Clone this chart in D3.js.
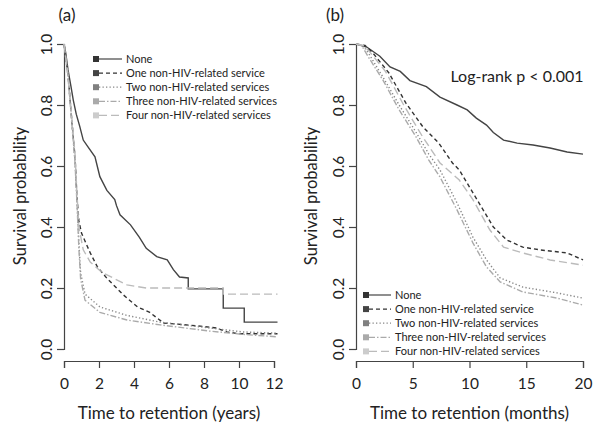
<!DOCTYPE html>
<html><head><meta charset="utf-8">
<script src="https://cdn.jsdelivr.net/npm/d3@7"></script>
<style>
body{margin:0;background:#fff;}
text{font-family:Lato,"Open Sans",sans-serif;fill:#222;}
</style></head>
<body><svg id="c" width="602" height="432"></svg>
<script>
const seriesNames = ["None","One non-HIV-related service","Two non-HIV-related services","Three non-HIV-related services","Four non-HIV-related services"];

// Panel (a): time (years) and survival
const a_none_t = [0,0.1,0.23,0.4,0.53,0.7,0.9,1.1,1.4,1.77,2.05,2.45,2.9,3.0,3.2,3.8,4.3,4.7,5.3,5.9,6.25,6.6,7.1,7.1,9.1,9.1,10.3,10.3,12.2];
const a_none_s = [1,0.97,0.915,0.86,0.816,0.77,0.73,0.685,0.66,0.63,0.565,0.52,0.49,0.47,0.44,0.407,0.367,0.33,0.303,0.292,0.26,0.236,0.233,0.197,0.197,0.134,0.134,0.088,0.088];
const a_one_t = [0,0.23,0.46,0.63,0.74,0.85,1.0,1.5,1.9,2.45,3.4,4.2,4.9,5.7,6.4,7.8,8.7,9.3,10,12.2];
const a_one_s = [1,0.9,0.74,0.63,0.5,0.42,0.38,0.315,0.27,0.232,0.177,0.138,0.12,0.085,0.082,0.075,0.069,0.056,0.05,0.05];
const a_two_t = [0,0.23,0.46,0.63,0.74,0.85,0.95,1.2,2.05,3.6,5.5,8.3,10.2,12.2];
const a_two_s = [1,0.9,0.74,0.62,0.49,0.35,0.25,0.18,0.138,0.11,0.088,0.069,0.056,0.052];
const a_three_t = [0,0.23,0.46,0.63,0.74,0.85,0.95,1.2,2.05,3.6,5.5,8.3,10.2,12.2];
const a_three_s = [1,0.89,0.73,0.61,0.48,0.33,0.23,0.16,0.12,0.095,0.079,0.059,0.048,0.04];
const a_four_t = [0,0.23,0.46,0.63,0.74,0.85,1.1,1.5,2.2,2.8,3.6,4.7,9.1,9.1,12.2];
const a_four_s = [1,0.9,0.75,0.64,0.51,0.4,0.325,0.285,0.25,0.233,0.21,0.2,0.2,0.18,0.18];

// Panel (b): time (months) and survival
const b_none_t = [0,0.95,2.1,3,3.9,4.75,6.2,7.4,8.9,9.8,10.6,11.5,12.1,13,14.2,15.6,17.1,18.6,20];
const b_none_s = [1,0.99,0.96,0.925,0.91,0.88,0.86,0.826,0.8,0.784,0.757,0.734,0.71,0.685,0.675,0.669,0.659,0.646,0.639];
const b_one_t = [0,0.8,1.5,2.9,4.4,5.9,7.3,8.5,9.1,10,11.2,12.1,13.3,14.7,16.2,18.6,20];
const b_one_s = [1,0.995,0.97,0.905,0.806,0.728,0.675,0.61,0.587,0.531,0.456,0.4,0.357,0.334,0.325,0.315,0.292];
const b_two_t = [0,0.6,1.1,2.4,3.8,5.3,6.4,7.4,8.9,10.3,11.5,12.7,14.7,17.7,20];
const b_two_s = [1,0.995,0.97,0.89,0.8,0.71,0.64,0.587,0.479,0.367,0.292,0.233,0.203,0.184,0.167];
const b_three_t = [0,0.5,1.1,2.4,3.8,5.3,6.4,7.4,8.9,10.3,11.5,12.7,14.7,17.7,20];
const b_three_s = [1,0.995,0.957,0.88,0.784,0.695,0.62,0.564,0.456,0.348,0.269,0.22,0.187,0.167,0.144];
const b_four_t = [0,0.7,1.3,2.6,4.2,5.8,7.4,9.1,10.3,11.8,13,14.7,17.1,20];
const b_four_s = [1,0.995,0.97,0.91,0.8,0.7,0.61,0.554,0.49,0.39,0.334,0.315,0.292,0.275];

const yTicks = [0,0.2,0.4,0.6,0.8,1.0];
const aTicks = [0,2,4,6,8,10,12];
const bTicks = [0,5,10,15,20];
const panelLabels = ["(a)","(b)"];
const xTitles = ["Time to retention (years)","Time to retention (months)"];
const yTitle = "Survival probability";
const pText = "Log-rank p < 0.001";

const styles = [
  {stroke:"#444", dash:null, sq:"#333"},
  {stroke:"#333", dash:"4,3", sq:"#444"},
  {stroke:"#888", dash:"1.3,2.2", sq:"#808080"},
  {stroke:"#aaa", dash:"6,2,1.5,2", sq:"#aaa"},
  {stroke:"#bbb", dash:"8,4", sq:"#ccc"}
];

const svg = d3.select("#c");
const zip = (t,s)=>t.map((v,i)=>[v,s[i]]);

function panel(opt){
  const x = d3.scaleLinear().domain(opt.xdom).range(opt.xr);
  const y = d3.scaleLinear().domain([0,1]).range([349,44]);
  const g = svg.append("g");
  // y axis
  const ya = g.append("g").attr("transform",`translate(${opt.xr[0]},0)`)
    .call(d3.axisLeft(y).tickValues(yTicks).tickFormat(d3.format(".1f")).tickSizeOuter(0).tickSize(7));
  ya.selectAll("text").attr("transform","rotate(-90)").attr("x",0).attr("y",-12).attr("dy",0)
    .attr("text-anchor","middle").style("font-size","15.5px").style("font-family","Lato, sans-serif").attr("fill","#222");
  // x axis
  const xa = g.append("g").attr("transform","translate(0,361)")
    .call(d3.axisBottom(x).tickValues(opt.ticks).tickSizeOuter(0).tickSize(7));
  xa.selectAll("text").attr("y",17).attr("dy","0.71em").style("font-size","15.5px").style("font-family","Lato, sans-serif").attr("fill","#222");
  g.selectAll(".domain, .tick line").attr("stroke","#444").attr("stroke-width",1.2);
  // titles
  g.append("text").attr("x",(opt.xr[0]+opt.xr[1])/2).attr("y",419).attr("text-anchor","middle")
    .style("font-size","17px").text(opt.xtitle);
  g.append("text").attr("transform",`translate(${opt.ytx},196) rotate(-90)`).attr("text-anchor","middle")
    .attr("dy","0.35em").style("font-size","16.5px").text(yTitle);
  g.append("text").attr("x",opt.lab[0]).attr("y",opt.lab[1]).attr("text-anchor","middle")
    .style("font-size","17px").text(opt.label);
  // curves
  const line = d3.line().x(d=>x(d[0])).y(d=>y(d[1]));
  opt.data.forEach((d,i)=>{
    g.append("path").attr("d",line(d)).attr("fill","none").attr("stroke",styles[i].stroke)
      .attr("stroke-width",1.4).attr("stroke-dasharray",styles[i].dash);
  });
  // legend
  const lg = g.append("g").attr("transform",`translate(${opt.leg[0]},${opt.leg[1]})`);
  seriesNames.forEach((n,i)=>{
    const yy = i*14.1;
    lg.append("line").attr("x1",3).attr("x2",opt.legLen).attr("y1",yy).attr("y2",yy)
      .attr("stroke",styles[i].stroke).attr("stroke-width",1.2).attr("stroke-dasharray",styles[i].dash);
    lg.append("rect").attr("x",-3).attr("y",yy-3).attr("width",6).attr("height",6).attr("fill",styles[i].sq);
    lg.append("text").attr("x",opt.legLen+4).attr("y",yy).attr("dy","0.35em").style("font-size","11px").text(n);
  });
  return {x,y,g};
}

panel({xdom:[0,12], xr:[64,274], ticks:aTicks, xtitle:xTitles[0], ytx:20, lab:[67,21], label:panelLabels[0],
  leg:[96,59], legLen:26,
  data:[zip(a_none_t,a_none_s),zip(a_one_t,a_one_s),zip(a_two_t,a_two_s),zip(a_three_t,a_three_s),zip(a_four_t,a_four_s)]});
const pb = panel({xdom:[0,20], xr:[356,583], ticks:bTicks, xtitle:xTitles[1], ytx:311, lab:[335,21], label:panelLabels[1],
  leg:[366,295], legLen:25,
  data:[zip(b_none_t,b_none_s),zip(b_one_t,b_one_s),zip(b_two_t,b_two_s),zip(b_three_t,b_three_s),zip(b_four_t,b_four_s)]});
pb.g.append("text").attr("x",517).attr("y",82).attr("text-anchor","middle").style("font-size","16px").text(pText);
</script></body></html>
